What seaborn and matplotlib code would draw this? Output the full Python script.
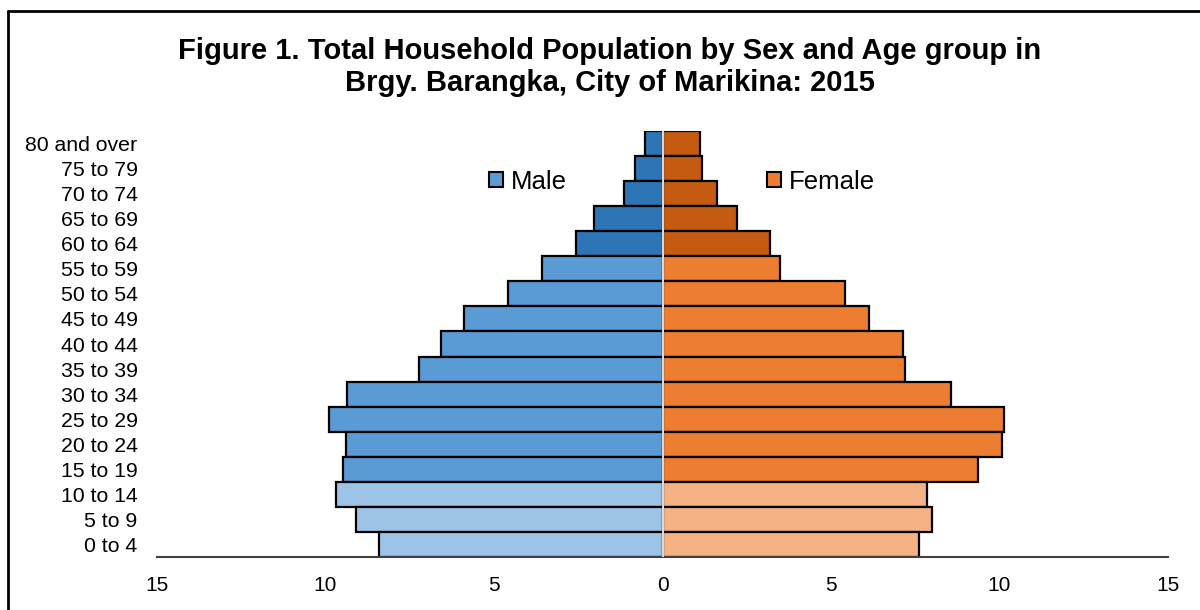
import numpy as np
import pandas as pd
import matplotlib
matplotlib.use("Agg")
import matplotlib.pyplot as plt
import seaborn as sns
from matplotlib.patches import Patch
from matplotlib.lines import Line2D

age_groups = ["80 and over", "75 to 79", "70 to 74", "65 to 69", "60 to 64",
              "55 to 59", "50 to 54", "45 to 49", "40 to 44", "35 to 39",
              "30 to 34", "25 to 29", "20 to 24", "15 to 19", "10 to 14",
              "5 to 9", "0 to 4"]
male = [0.53, 0.81, 1.13, 2.04, 2.56, 3.58, 4.59, 5.88, 6.57, 7.23,
        9.36, 9.90, 9.39, 9.47, 9.70, 9.10, 8.42]
female = [1.12, 1.18, 1.61, 2.22, 3.19, 3.48, 5.43, 6.13, 7.14, 7.19,
          8.55, 10.13, 10.06, 9.37, 7.84, 7.99, 7.61]
x_ticks = [-15, -10, -5, 0, 5, 10, 15]

# colour shade by broad age band: old (60+), working (15-59), young (0-14)
male_cols = ["#2E75B6"] * 5 + ["#5B9BD5"] * 9 + ["#9DC3E6"] * 3
female_cols = ["#C55A11"] * 5 + ["#ED7D31"] * 9 + ["#F4B183"] * 3

sns.set_style("white")
plt.rcParams["font.family"] = ["Liberation Sans", "DejaVu Sans"]
plt.rcParams["text.color"] = "black"
plt.rcParams["xtick.color"] = "black"
plt.rcParams["ytick.color"] = "black"

fig = plt.figure(figsize=(12, 6.1), dpi=100)
ax = fig.add_axes([157 / 1200, 1 - 557 / 610, 1011 / 1200, 426 / 610])

df_m = pd.DataFrame({"age": age_groups, "value": [-v for v in male]})
df_f = pd.DataFrame({"age": age_groups, "value": female})

sns.barplot(data=df_m, x="value", y="age", hue="age", palette=male_cols,
            order=age_groups, hue_order=age_groups, width=1.0, legend=False,
            saturation=1, edgecolor="black", linewidth=1.6, ax=ax)
sns.barplot(data=df_f, x="value", y="age", hue="age", palette=female_cols,
            order=age_groups, hue_order=age_groups, width=1.0, legend=False,
            saturation=1, edgecolor="black", linewidth=1.6, ax=ax)

ax.axvline(0, color="#D9D9D9", lw=1.5, zorder=5)

ax.set_xlim(-15, 15)
ax.set_ylim(len(age_groups) - 0.5, -0.5)
ax.set_xticks(x_ticks)
ax.set_xticklabels([str(abs(t)) for t in x_ticks])
ax.set_xlabel("")
ax.set_ylabel("")
ax.tick_params(axis="x", length=0, pad=14, labelsize=15, labelcolor="black")
ax.tick_params(axis="y", length=0, pad=14, labelsize=15.3, labelcolor="black")

for s in ["top", "right", "left"]:
    ax.spines[s].set_visible(False)
ax.spines["bottom"].set_color("#404040")
ax.spines["bottom"].set_linewidth(1.5)

handles = [Patch(facecolor="#5B9BD5", edgecolor="black", linewidth=1.5, label="Male"),
           Patch(facecolor="#ED7D31", edgecolor="black", linewidth=1.5, label="Female")]
ax.legend(handles=handles, loc="center", bbox_to_anchor=(0.519, 0.881),
          ncol=2, frameon=False, fontsize=18.5, handlelength=0.55,
          handleheight=0.55, handletextpad=0.3, columnspacing=7.8,
          borderpad=0, labelcolor="black")

fig.text(610 / 1200, 1 - 67 / 610, "Figure 1. Total Household Population by Sex and Age group in\n"
         "Brgy. Barangka, City of Marikina: 2015", ha="center", va="center",
         fontsize=21, fontweight="bold", linespacing=1.18, color="black")

# chart frame (left and top edges visible)
fig.add_artist(Line2D([8 / 1200, 8 / 1200], [0, 1 - 11 / 610], color="black", lw=2,
                      transform=fig.transFigure))
fig.add_artist(Line2D([8 / 1200, 1], [1 - 11 / 610, 1 - 11 / 610], color="black", lw=2,
                      transform=fig.transFigure))

fig.savefig("out.png", dpi=100)
